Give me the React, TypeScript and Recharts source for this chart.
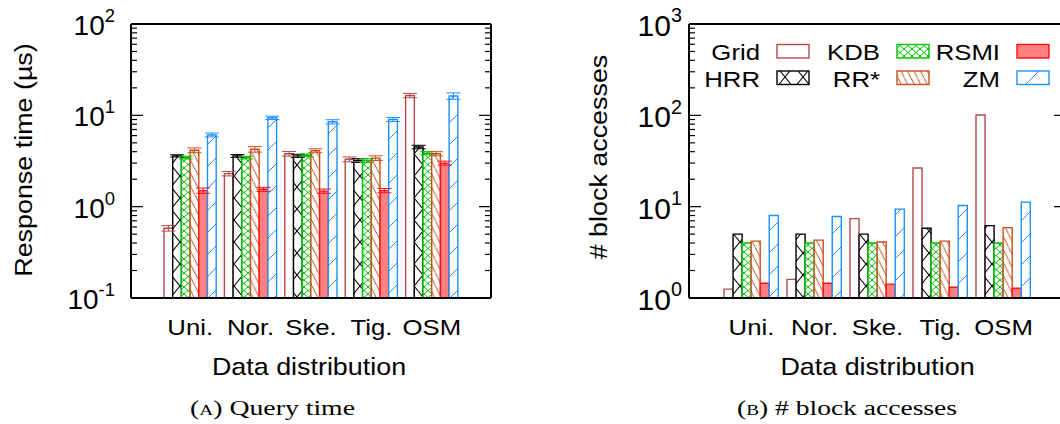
import React from 'react';
import { BarChart, Bar, XAxis, YAxis, ErrorBar, ReferenceLine, Legend } from 'recharts';

const categories = ['Uni.', 'Nor.', 'Ske.', 'Tig.', 'OSM'];

// (a) query time in µs
const timeGrid = [0.58, 2.3, 3.8, 3.3, 16.5];
const timeHRR = [3.6, 3.6, 3.6, 3.2, 4.5];
const timeKDB = [3.45, 3.45, 3.65, 3.2, 3.85];
const timeRR = [4.15, 4.25, 4.1, 3.4, 3.8];
const timeRSMI = [1.5, 1.55, 1.48, 1.5, 3.0];
const timeZM = [6.1, 9.4, 8.5, 9.0, 16.3];

// error bar half-widths for (a)
const errGrid = [0.04, 0.13, 0.22, 0.2, 0.9];
const errHRR = [0.1, 0.12, 0.15, 0.15, 0.2];
const errKDB = [0.12, 0.12, 0.12, 0.15, 0.15];
const errRR = [0.25, 0.3, 0.2, 0.2, 0.2];
const errRSMI = [0.1, 0.08, 0.08, 0.08, 0.15];
const errZM = [0.3, 0.4, 0.45, 0.45, 1.3];

// (b) number of block accesses
const blkGrid = [1.25, 1.6, 7.4, 26.5, 101];
const blkHRR = [5.0, 5.0, 5.0, 5.8, 6.2];
const blkKDB = [4.0, 4.0, 4.0, 4.0, 4.0];
const blkRR = [4.2, 4.3, 4.1, 4.2, 5.9];
const blkRSMI = [1.45, 1.45, 1.42, 1.31, 1.28];
const blkZM = [8.0, 7.8, 9.4, 10.3, 11.2];

const timeMajor = [0.1, 1, 10, 100];
const timeMinor = [0.2, 0.3, 0.4, 0.5, 0.6, 0.7, 0.8, 0.9, 2, 3, 4, 5, 6, 7, 8, 9, 20, 30, 40, 50, 60, 70, 80, 90];
const blkMajor = [1, 10, 100, 1000];
const blkMinor = [2, 3, 4, 5, 6, 7, 8, 9, 20, 30, 40, 50, 60, 70, 80, 90, 200, 300, 400, 500, 600, 700, 800, 900];

const SANS = '"Liberation Sans", Arial, Helvetica, sans-serif';
const SERIF = '"Liberation Serif", "Times New Roman", serif';
const STRETCH = 1.12;

const SERIES = [
  { key: 'grid', name: 'Grid', stroke: '#b24a4a', fill: '#ffffff' },
  { key: 'hrr', name: 'HRR', stroke: '#000000', fill: 'url(#pat-hrr)' },
  { key: 'kdb', name: 'KDB', stroke: '#00c000', fill: 'url(#pat-kdb)' },
  { key: 'rr', name: 'RR*', stroke: '#c8501e', fill: 'url(#pat-rr)' },
  { key: 'rsmi', name: 'RSMI', stroke: '#ff1010', fill: '#ff8080' },
  { key: 'zm', name: 'ZM', stroke: '#1e90ff', fill: 'url(#pat-zm)' },
];

const timeRows = categories.map((cat, i) => ({
  cat,
  grid: timeGrid[i], gridErr: errGrid[i],
  hrr: timeHRR[i], hrrErr: errHRR[i],
  kdb: timeKDB[i], kdbErr: errKDB[i],
  rr: timeRR[i], rrErr: errRR[i],
  rsmi: timeRSMI[i], rsmiErr: errRSMI[i],
  zm: timeZM[i], zmErr: errZM[i],
}));

const blkRows = categories.map((cat, i) => ({
  cat,
  grid: blkGrid[i],
  hrr: blkHRR[i],
  kdb: blkKDB[i],
  rr: blkRR[i],
  rsmi: blkRSMI[i],
  zm: blkZM[i],
}));

function Patterns() {
  return (
    <svg width={0} height={0} style={{ position: 'absolute' }}>
      <defs>
        <pattern id="pat-hrr" patternUnits="userSpaceOnUse" width={18} height={22}>
          <rect width={18} height={22} fill="#fff" />
          <path d="M0,0 L18,22 M18,0 L0,22" stroke="#000" strokeWidth={1.1} />
        </pattern>
        <pattern id="pat-kdb" patternUnits="userSpaceOnUse" width={8} height={7}>
          <rect width={8} height={7} fill="#fff" />
          <path d="M0,0 L8,7 M8,0 L0,7" stroke="#00c000" strokeWidth={1} />
        </pattern>
        <pattern id="pat-rr" patternUnits="userSpaceOnUse" width={6.5} height={13}>
          <rect width={6.5} height={13} fill="#fff" />
          <path d="M0,0 L6.5,13" stroke="#c8501e" strokeWidth={1} />
        </pattern>
        <pattern id="pat-zm" patternUnits="userSpaceOnUse" width={22} height={22}>
          <rect width={22} height={22} fill="#fff" />
          <path d="M0,22 L22,0" stroke="#1e90ff" strokeWidth={1} />
        </pattern>
      </defs>
    </svg>
  );
}

function LogTick(props: any) {
  const { x, y, payload, side, majors, gap, fontSize, base } = props;
  const v = payload.value;
  const major = majors.indexOf(v) >= 0;
  const len = major ? 12 : 6;
  const dir = side === 'left' ? 1 : -1;
  const exp = Math.round(Math.log10(v));
  return (
    <g>
      <line x1={x} y1={y} x2={x + dir * len} y2={y} stroke="#000" strokeWidth={1.2} />
      {side === 'left' && major ? (
        <text x={x - gap} y={y + base} textAnchor="end" fontFamily={SANS} fill="#000">
          <tspan fontSize={fontSize}>10</tspan>
          <tspan fontSize={fontSize * 0.66} dy={-fontSize * 0.46}>{exp}</tspan>
        </text>
      ) : null}
    </g>
  );
}

function CatTick(props: any) {
  const { x, y, payload } = props;
  return (
    <text
      transform={`translate(${x},${y + 37}) scale(${STRETCH},1)`}
      textAnchor="middle"
      fontFamily={SANS}
      fontSize={23}
      fill="#000"
    >
      {payload.value}
    </text>
  );
}

function LegendBox(props: any) {
  const items = props.payload || [];
  return (
    <svg width={520} height={110} style={{ display: 'block' }}>
      {items.map((it: any, i: number) => {
        const s = SERIES.find((d) => d.name === it.value) || SERIES[0];
        const idx = SERIES.indexOf(s);
        const col = Math.floor(idx / 2);
        const row = idx % 2;
        const tx = 200 + col * 120;
        const base = row === 0 ? 60 : 86.5;
        return (
          <g key={s.key}>
            <text
              transform={`translate(${tx},${base}) scale(${STRETCH},1)`}
              textAnchor="end"
              fontFamily={SANS}
              fontSize={23}
              fill="#000"
            >
              {s.name}
            </text>
            <rect x={tx + 17} y={base - 15.5} width={32} height={13.5} fill={s.fill} stroke={s.stroke} strokeWidth={1.4} />
          </g>
        );
      })}
    </svg>
  );
}

function Panel(props: any) {
  const { rows, domain, majors, minors, width, margin, padding, barSize, withErrors, gap, labelSize, base, legend } = props;
  const allTicks = [...majors, ...minors];
  const axisLine = { stroke: '#000', strokeWidth: 2 };
  return (
    <BarChart width={width} height={424} data={rows} margin={margin} barGap={0} barSize={barSize}>
      <XAxis
        dataKey="cat"
        tickLine={false}
        tickSize={0}
        tickMargin={0}
        height={40}
        padding={padding}
        interval={0}
        axisLine={axisLine}
        tick={CatTick}
      />
      <YAxis
        yAxisId="L"
        type="number"
        scale="log"
        domain={domain}
        ticks={allTicks}
        interval={0}
        width={1}
        tickSize={0}
        tickMargin={0}
        tickLine={false}
        axisLine={axisLine}
        allowDataOverflow
        tick={(p: any) => (
          <LogTick {...p} side="left" majors={majors} gap={gap} fontSize={labelSize} base={base} />
        )}
      />
      <YAxis
        yAxisId="R"
        orientation="right"
        type="number"
        scale="log"
        domain={domain}
        ticks={allTicks}
        interval={0}
        width={1}
        tickSize={0}
        tickMargin={0}
        tickLine={false}
        axisLine={axisLine}
        allowDataOverflow
        tick={(p: any) => <LogTick {...p} side="right" majors={majors} />}
      />
      <ReferenceLine yAxisId="L" y={domain[1]} stroke="#000" strokeWidth={2} />
      {SERIES.map((s) => (
        <Bar
          key={s.key}
          yAxisId="L"
          dataKey={s.key}
          name={s.name}
          fill={s.fill}
          stroke={s.stroke}
          strokeWidth={1.4}
          isAnimationActive={false}
        >
          {withErrors ? (
            <ErrorBar dataKey={s.key + 'Err'} width={7} stroke={s.stroke} strokeWidth={1} direction="y" />
          ) : null}
        </Bar>
      ))}
      {legend ? (
        <Legend
          layout="horizontal"
          verticalAlign="middle"
          align="center"
          wrapperStyle={{ left: 0, top: 0, width: 520, height: 110 }}
          content={LegendBox}
        />
      ) : null}
    </BarChart>
  );
}

export default function App() {
  return (
    <div
      style={{
        position: 'absolute',
        left: 0,
        top: 0,
        width: 1060,
        height: 424,
        overflow: 'hidden',
        background: '#fff',
      }}
    >
      <Patterns />
      <div style={{ position: 'absolute', left: 0, top: 0 }}>
        <Panel
          rows={timeRows}
          domain={[0.1, 100]}
          majors={timeMajor}
          minors={timeMinor}
          width={530}
          margin={{ top: 24, left: 130, right: 38, bottom: 86 }}
          padding={{ left: 29, right: 29 }}
          barSize={8.7}
          withErrors
          gap={16}
          labelSize={28}
          base={11}
        />
      </div>
      <div style={{ position: 'absolute', left: 560, top: 0 }}>
        <Panel
          rows={blkRows}
          domain={[1, 1000]}
          majors={blkMajor}
          minors={blkMinor}
          width={520}
          margin={{ top: 24, left: 128, right: 13, bottom: 86 }}
          padding={{ left: 31, right: 31 }}
          barSize={9.05}
          withErrors={false}
          gap={7}
          labelSize={30}
          base={12}
          legend
        />
      </div>
      <svg
        width={1060}
        height={424}
        style={{ position: 'absolute', left: 0, top: 0, pointerEvents: 'none' }}
      >
        <text
          transform={`translate(31.5,160) rotate(-90) scale(${STRETCH},1)`}
          textAnchor="middle"
          fontFamily={SANS}
          fontSize={24}
          fill="#000"
        >
          Response time (µs)
        </text>
        <text
          transform={`translate(607,157) rotate(-90) scale(${STRETCH},1)`}
          textAnchor="middle"
          fontFamily={SANS}
          fontSize={24}
          fill="#000"
        >
          # block accesses
        </text>
        <text
          transform={`translate(309,375) scale(${STRETCH},1)`}
          textAnchor="middle"
          fontFamily={SANS}
          fontSize={24}
          fill="#000"
        >
          Data distribution
        </text>
        <text
          transform={`translate(877.5,375) scale(${STRETCH},1)`}
          textAnchor="middle"
          fontFamily={SANS}
          fontSize={24}
          fill="#000"
        >
          Data distribution
        </text>
        <text x={190} y={415} fontFamily={SERIF} fontSize={20} fill="#000" textLength={165} lengthAdjust="spacingAndGlyphs">
          (<tspan style={{ fontVariant: 'small-caps' }}>a</tspan>) Query time
        </text>
        <text x={737} y={415} fontFamily={SERIF} fontSize={20} fill="#000" textLength={220} lengthAdjust="spacingAndGlyphs">
          (<tspan style={{ fontVariant: 'small-caps' }}>b</tspan>) # block accesses
        </text>
      </svg>
    </div>
  );
}
